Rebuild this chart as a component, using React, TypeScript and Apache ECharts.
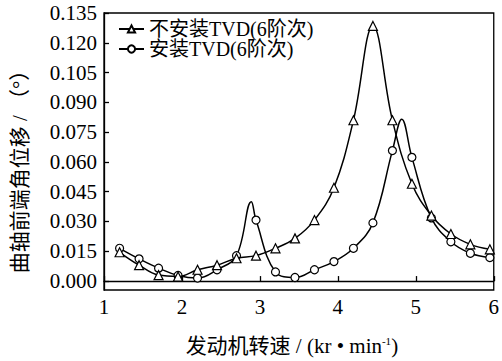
import React, { useEffect, useRef } from 'react';
import * as echarts from 'echarts';

// engine speed (kr/min) at marked points
const speeds = [1.2, 1.45, 1.7, 1.95, 2.2, 2.45, 2.7, 2.95, 3.2, 3.45, 3.7, 3.95, 4.2, 4.45, 4.7, 4.95, 5.2, 5.45, 5.7, 5.95];
// 不安装TVD(6阶次)
const withoutTVD = [0.0145, 0.008, 0.003, 0.0023, 0.0057, 0.008, 0.0115, 0.0128, 0.0165, 0.0215, 0.0307, 0.047, 0.081, 0.1285, 0.081, 0.049, 0.033, 0.0237, 0.0185, 0.016];
// 安装TVD(6阶次)
const withTVD = [0.0165, 0.0112, 0.0065, 0.0028, 0.0015, 0.0057, 0.0128, 0.0307, 0.0046, 0.0018, 0.0057, 0.0098, 0.0165, 0.0293, 0.0657, 0.0623, 0.0318, 0.0198, 0.014, 0.0118];
// unmarked curve points of 安装TVD (peaks between markers)
const withTVDExtraSpeeds = [2.89, 4.82];
const withTVDExtraValues = [0.040, 0.0815];

const yTicks = [0, 0.015, 0.03, 0.045, 0.06, 0.075, 0.09, 0.105, 0.12, 0.135];
const xTicks = [1, 2, 3, 4, 5, 6];

const FONT = "'Liberation Serif', 'Times New Roman', 'Noto Sans CJK SC', serif";

export default function App() {
  const ref = useRef<HTMLDivElement>(null);
  useEffect(() => {
    if (!ref.current) return;
    const chart = echarts.init(ref.current, undefined, { renderer: 'svg' });

    const s1 = speeds.map((x, i) => [x, withoutTVD[i]]);
    const s2: any[] = speeds.map((x, i) => ({ value: [x, withTVD[i]] }));
    withTVDExtraSpeeds.forEach((x, i) => {
      s2.push({ value: [x, withTVDExtraValues[i]], symbol: 'none' });
    });
    s2.sort((a, b) => a.value[0] - b.value[0]);

    const markerStyle = { color: '#fff', borderColor: '#000', borderWidth: 1.2 };
    const lineStyle = { color: '#000', width: 1.5 };

    chart.setOption({
      animation: false,
      backgroundColor: '#fff',
      textStyle: { fontFamily: FONT, color: '#000' },
      grid: {
        left: 104, right: 7, top: 13, bottom: 69,
        show: true, borderColor: '#000', borderWidth: 1.3, backgroundColor: 'transparent',
      },
      legend: {
        orient: 'vertical',
        left: 118,
        top: 19,
        padding: 0,
        itemWidth: 25,
        itemHeight: 9,
        itemGap: 0,
        textStyle: { fontFamily: FONT, fontSize: 20, color: '#000', lineHeight: 20 },
        data: ['不安装TVD(6阶次)', '安装TVD(6阶次)'],
      },
      xAxis: {
        type: 'value',
        min: 1,
        max: 6,
        interval: 1,
        name: '发动机转速 / (kr • min{sup|-1})',
        nameLocation: 'middle',
        nameGap: 45,
        nameTextStyle: {
          fontFamily: FONT, fontSize: 21, color: '#000', padding: [0, 14, 0, 0],
          rich: { sup: { fontFamily: FONT, fontSize: 11, color: '#000', padding: [0, 0, 9, 0] } },
        },
        axisLine: { show: true, lineStyle: { color: '#000', width: 1.3 } },
        axisTick: { show: true, inside: true, length: 5, lineStyle: { color: '#000', width: 1.3 }, customValues: xTicks },
        axisLabel: { fontFamily: FONT, fontSize: 21, color: '#000', margin: 6, customValues: xTicks },
        splitLine: { show: false },
      },
      yAxis: {
        type: 'value',
        min: -0.0045,
        max: 0.135,
        name: '曲轴前端角位移 / （°）',
        nameLocation: 'middle',
        nameRotate: 90,
        nameGap: 74,
        nameTextStyle: { fontFamily: FONT, fontSize: 21, color: '#000', padding: [0, 30, 0, 0] },
        axisLine: { show: true, lineStyle: { color: '#000', width: 1.3 } },
        axisTick: { show: true, inside: true, length: 5, lineStyle: { color: '#000', width: 1.3 }, customValues: yTicks },
        axisLabel: {
          fontFamily: FONT, fontSize: 21, color: '#000', margin: 7,
          customValues: yTicks,
          formatter: (v: number) => v.toFixed(3),
        },
        splitLine: { show: false },
      },
      series: [
        {
          name: '不安装TVD(6阶次)',
          type: 'line',
          data: s1,
          smooth: 0.4,
          symbol: 'triangle',
          symbolSize: 9,
          showAllSymbol: true,
          itemStyle: markerStyle,
          lineStyle,
          z: 3,
        },
        {
          name: '安装TVD(6阶次)',
          type: 'line',
          data: s2,
          smooth: 0.4,
          symbol: 'circle',
          symbolSize: 8,
          showAllSymbol: true,
          itemStyle: markerStyle,
          lineStyle,
          z: 2,
        },
      ],
    });
    return () => chart.dispose();
  }, []);
  return <div ref={ref} style={{ position: 'fixed', left: 0, top: 0, width: 502, height: 361 }} />;
}
